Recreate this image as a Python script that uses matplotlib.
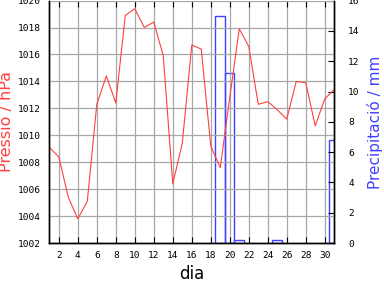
import matplotlib
matplotlib.use("Agg")
import matplotlib.pyplot as plt

# Dades del mes: pressió diària i precipitació
dies = list(range(1, 32))
pressio = [1009.1, 1008.4, 1005.4, 1003.8, 1005.1, 1012.3, 1014.4, 1012.4,
           1018.9, 1019.4, 1018.0, 1018.4, 1015.9, 1006.4, 1009.4, 1016.7,
           1016.4, 1009.2, 1007.6, 1012.8, 1017.9, 1016.6, 1012.3, 1012.5,
           1011.9, 1011.2, 1014.0, 1013.9, 1010.7, 1012.7, 1013.4]
dies_pluja = [18, 19, 20, 24, 30]
precipitacio = [15.0, 11.2, 0.2, 0.2, 6.8]
ticks_dia = list(range(2, 31, 2))
ticks_pressio = list(range(1002, 1021, 2))
ticks_precip = list(range(0, 17, 2))

vermell = "#ff4040"
blau = "#4040ff"
mida_ticks = 6.8

fig = plt.figure(figsize=(3.84, 2.88), dpi=100)
ax = fig.add_axes([0.1284, 0.156, 0.742, 0.842])
ax2 = ax.twinx()

# Precipitació (barres buides) a l'eix dret
ax2.bar([d + 0.45 for d in dies_pluja], precipitacio, width=1.0, align="edge",
        facecolor="none", edgecolor=blau, linewidth=1.0)
ax2.set_ylim(0, 16)
ax2.set_yticks(ticks_precip)
ax2.tick_params(axis="y", direction="in", length=4, width=0.8, pad=10,
                labelsize=mida_ticks)
for lab in ax2.get_yticklabels():
    lab.set_family("DejaVu Sans Mono")
ax2.set_ylabel("Precipitació / mm", color=blau, fontsize=11, labelpad=5)

# Pressió (línia) a l'eix esquerre
ax.set_zorder(ax2.get_zorder() + 1)
ax.patch.set_visible(False)
ax.plot(dies, pressio, color=vermell, linewidth=0.8)
ax.set_xlim(1, 31)
ax.set_ylim(1002, 1020)
ax.set_xticks(ticks_dia)
ax.set_yticks(ticks_pressio)
ax.grid(True, color="#a8a8a8", linewidth=0.9)
ax.tick_params(axis="x", direction="in", length=4, width=0.8, top=True,
               pad=6, labelsize=mida_ticks)
ax.tick_params(axis="y", direction="in", length=0, pad=6, labelsize=mida_ticks)
for lab in ax.get_xticklabels() + ax.get_yticklabels():
    lab.set_family("DejaVu Sans Mono")
ax.set_ylabel("Pressió / hPa", color=vermell, fontsize=11.5, labelpad=3)
ax.set_xlabel("dia", fontsize=12, labelpad=3)

for a in (ax, ax2):
    for s in a.spines.values():
        s.set_linewidth(1.0)
    a.spines["top"].set_visible(False)

fig.savefig("out.png", dpi=100)
